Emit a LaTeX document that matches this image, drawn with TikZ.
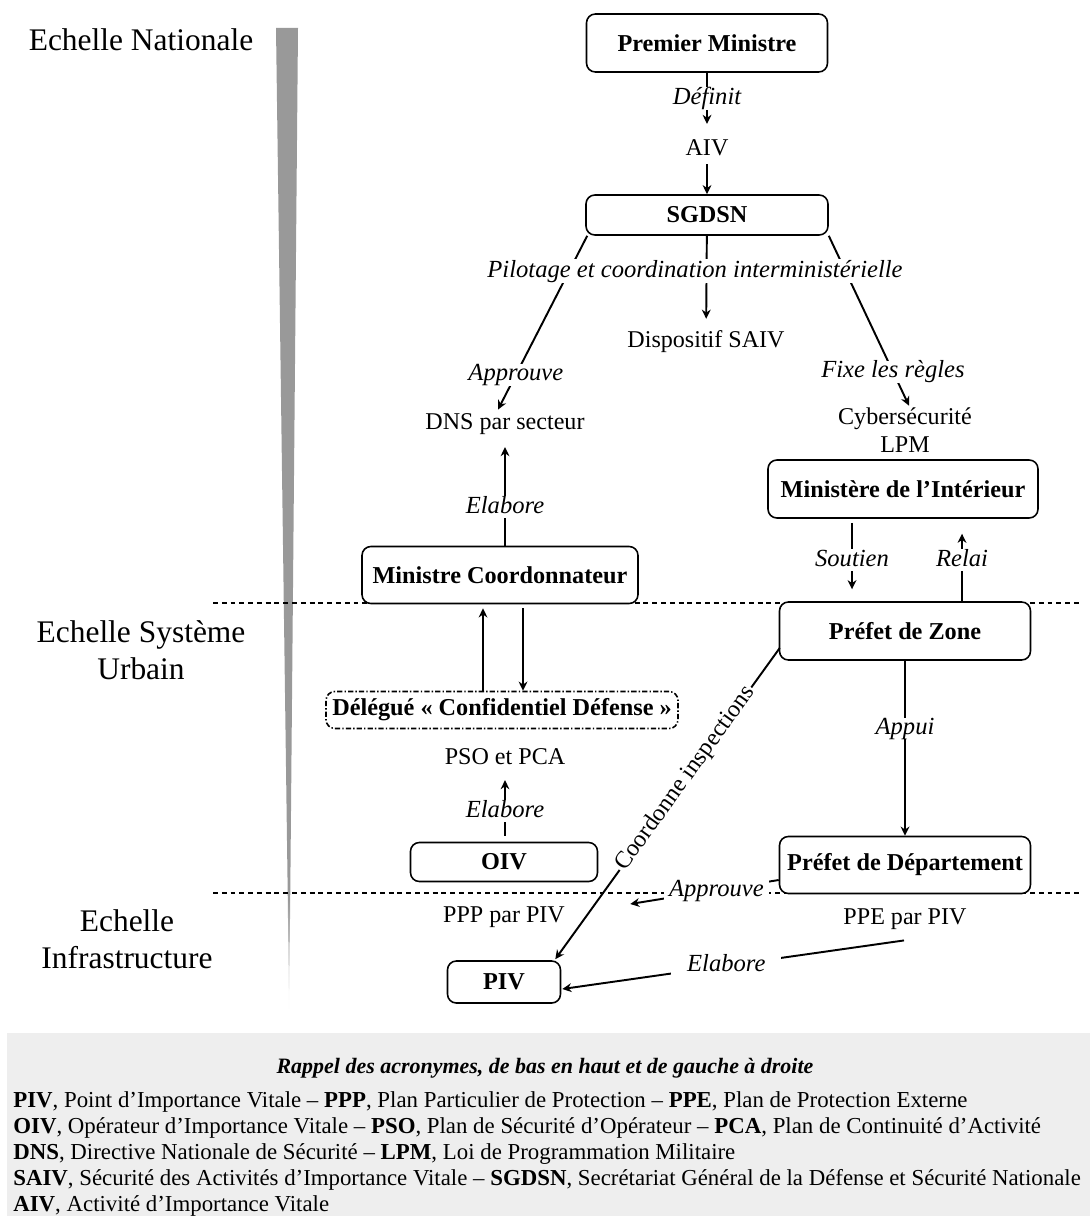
\documentclass[tikz,border=0pt]{standalone}
\usepackage{fontspec}
\setmainfont{Liberation Serif}
\usepackage{tikz}
\usetikzlibrary{calc,arrows.meta,positioning}

\definecolor{wedgegray}{RGB}{153,153,153}
\definecolor{legendgray}{RGB}{238,238,238}

\begin{document}
\begin{tikzpicture}[x=0.02cm, y=-0.02cm, >={Stealth[length=5.2pt,width=5pt]},
  font=\fontsize{13.7}{16}\selectfont,
  box/.style={draw, line width=0.9pt, rounded corners=5pt, fill=white,
    font=\fontsize{13.8}{16}\selectfont\bfseries},
  txt/.style={inner sep=4pt, text height=1.5ex, text depth=.25ex},
  lab/.style={fill=white, inner xsep=2pt, inner ysep=1.5pt, text height=1.8ex, text depth=.3ex,
    font=\fontsize{14}{16}\selectfont\itshape},
  echelle/.style={align=center, font=\fontsize{17.9}{21}\selectfont},
  conn/.style={line width=1.1pt},
  level/.style={line width=1.3pt, dash pattern=on 2.8pt off 2.2pt}]
  \useasboundingbox (0,0) rectangle (1090,1216);

  % Scale bar
  \fill[wedgegray] (276,28) -- (298,28) -- (290.2,900) -- (287.8,900) -- cycle;
  \shade[top color=wedgegray, bottom color=white] (287.8,900) -- (290.2,900) -- (289,1012) -- cycle;
  \node[echelle] (nat) at (141,40) {Echelle Nationale};
  \node[echelle] (urb) at (141,650) {Echelle Système\\Urbain};
  \node[echelle] (infra) at (127,939) {Echelle\\Infrastructure};

  % Level separators
  \draw[level] (213,603) -- (1080,603);
  \draw[level] (213,893) -- (1080,893);

  % National level
  \node[box, minimum width=4.82cm, minimum height=1.16cm] (pm) at (707,43) {Premier Ministre};
  \node[txt] (aiv) at (707,150) {AIV};
  \node[box, minimum width=4.84cm, minimum height=0.8cm] (sgdsn) at (707,215) {SGDSN};
  \node[txt] (saiv) at (706,342) {Dispositif SAIV};
  \node[txt] (dns) at (505,424) {DNS par secteur};
  \node[align=center, inner sep=2pt] (cyber) at (905,430) {Cybersécurité\\LPM};
  \node[box, minimum width=5.4cm, minimum height=1.16cm] (mi) at (903,489) {Ministère de l’Intérieur};
  \node[box, minimum width=5.52cm, minimum height=1.14cm] (mc) at (500,575) {Ministre Coordonnateur};

  \draw[conn, ->, shorten >=6.6pt] (pm) -- node[lab, pos=0.41] {Définit} (aiv);
  \draw[conn, ->] (aiv) -- (sgdsn);
  \draw[conn, ->, shorten >=5pt] (sgdsn) -- (saiv);
  \draw[conn, ->] ($(sgdsn.south west)+(2,0)$) -- node[lab, pos=0.8] {Approuve} ($(dns.north)+(-7,0)$);
  \draw[conn, ->] (sgdsn.south east) -- node[lab, pos=0.8] {Fixe les règles} ($(cyber.north)+(4,2)$);
  \node[lab, inner ysep=2pt] (pilot) at (695,271) {Pilotage et coordination interministérielle};
  \draw[conn, ->, shorten >=4.9pt] (mc.north -| dns) -- node[lab, pos=0.36] {Elabore} (dns);

  % Urban system level
  \node[box, minimum width=5.02cm, minimum height=1.16cm] (pz) at (905,631) {Préfet de Zone};
  \node[box, dash pattern=on 3pt off 1.2pt on 0.8pt off 1.2pt, minimum width=7.04cm,
    minimum height=0.74cm] (dcd) at (502,710) {Délégué « Confidentiel Défense »};
  \node[txt] (pso) at (505,759) {PSO et PCA};
  \node[box, minimum width=3.74cm, minimum height=0.78cm] (oiv) at (504,862) {OIV};
  \node[box, minimum width=5.02cm, minimum height=1.14cm] (pd) at (905,865) {Préfet de Département};

  \draw[conn, ->, shorten >=2.3pt] ($(dcd.north)+(-19,0)$) -- ($(mc.south)+(-17,0)$);
  \draw[conn, ->, shorten <=2.3pt] ($(mc.south)+(23,0)$) -- ($(dcd.north)+(21,0)$);
  \draw[conn, ->, shorten <=2.3pt, shorten >=6.8pt] ($(mi.south)+(-51,0)$) -- node[lab, pos=0.5] {Soutien} ($(pz.north)+(-53,0)$);
  \draw[conn, ->, shorten >=8.5pt] ($(pz.north)+(57,0)$) -- node[lab, pos=0.5] {Relai} ($(mi.south)+(59,0)$);
  \draw[conn, ->] (pz) -- node[lab, pos=0.386, inner ysep=1pt] {Appui} (pd);
  \draw[conn, ->, shorten <=3.4pt, shorten >=3.8pt] (oiv.north -| pso) -- node[lab, pos=0.445] {Elabore} (pso);

  % Infrastructure level
  \node[txt] (ppp) at (504,917) {PPP par PIV};
  \node[txt] (ppe) at (905,919) {PPE par PIV};
  \node[box, minimum width=2.26cm, minimum height=0.84cm] (piv) at (504,982) {PIV};

  \draw[conn, ->] ($(pz.west)+(1,17)$) -- node[pos=0.42, sloped, fill=white, inner sep=1pt] {Coordonne inspections} ($(piv.north east)+(-6,-1)$);
  \draw[conn, ->] ($(pd.west)+(0,15)$) -- node[lab, pos=0.42, inner xsep=3pt] {Approuve} ($(ppp.east)+(58,-13)$);
  \draw[conn, ->] ($(ppe.south)+(-1,7)$) -- node[lab, pos=0.52, inner xsep=9pt] {Elabore} ($(piv.east)+(1,7)$);

  % Acronyms
  \fill[legendgray] (7,1033) rectangle (1090,1216);
  \node[font=\fontsize{12.5}{14}\selectfont\bfseries\itshape] (rappel) at (545,1068)
    {Rappel des acronymes, de bas en haut et de gauche à droite};
  \node[anchor=north west, align=left, inner sep=0pt, font=\fontsize{13}{14.8}\selectfont] (acro) at (13,1091)
    {\textbf{PIV}, Point d’Importance Vitale – \textbf{PPP}, Plan Particulier de Protection – \textbf{PPE}, Plan de Protection Externe\\
     \textbf{OIV}, Opérateur d’Importance Vitale – \textbf{PSO}, Plan de Sécurité d’Opérateur – \textbf{PCA}, Plan de Continuité d’Activité\\
     \textbf{DNS}, Directive Nationale de Sécurité – \textbf{LPM}, Loi de Programmation Militaire\\
     \textbf{SAIV}, Sécurité des Activités d’Importance Vitale – \textbf{SGDSN}, Secrétariat Général de la Défense et Sécurité Nationale\\
     \textbf{AIV}, Activité d’Importance Vitale};
\end{tikzpicture}
\end{document}
